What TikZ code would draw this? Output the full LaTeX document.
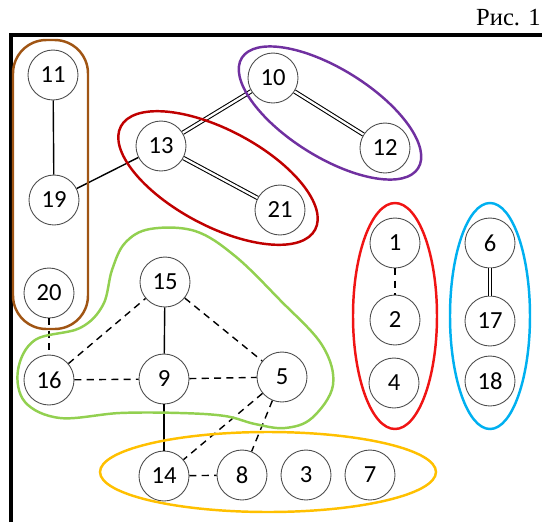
\documentclass[tikz,border=0pt]{standalone}
\usepackage{fontspec}
\setmainfont{Liberation Serif}
\newfontfamily\numfont{Carlito}
\usepackage{xcolor}
\usepackage{tikz}
\definecolor{grpbrown}{RGB}{160,85,20}
\definecolor{grppurple}{RGB}{112,48,160}
\definecolor{grpdarkred}{RGB}{192,0,0}
\definecolor{grpred}{RGB}{240,20,20}
\definecolor{grpblue}{RGB}{0,176,240}
\definecolor{grporange}{RGB}{255,192,0}
\definecolor{grpgreen}{RGB}{146,208,80}

\begin{document}
\begin{tikzpicture}[x=0.02cm, y=-0.02cm,
  vtx/.style={draw=black!70, circle, fill=white, minimum size=1cm, inner sep=0pt,
              line width=0.5pt, font=\numfont\fontsize{14}{16}\selectfont},
  edg/.style={line width=0.8pt},
  dsh/.style={line width=0.8pt, dash pattern=on 4pt off 3pt},
  dbl/.style={double, double distance=1.3pt, line width=0.6pt},
  grp/.style={line width=1.4pt}]
  \useasboundingbox (0,0) rectangle (542,522);
  \node[anchor=base east, inner sep=0pt, font=\fontsize{14}{16}\selectfont]
      (cap) at (541,25) {Рис. 1};
  \draw[line width=1.8pt] (11,522) -- (11,35) -- (542,35);

  \node[vtx] (n11) at (53,75)   {11};
  \node[vtx] (n19) at (54,200)  {19};
  \node[vtx] (n20) at (49,293)  {20};
  \node[vtx] (n16) at (49,380)  {16};
  \node[vtx] (n15) at (165,282) {15};
  \node[vtx] (n9)  at (164,379) {9};
  \node[vtx] (n5)  at (282,377) {5};
  \node[vtx] (n14) at (164,476) {14};
  \node[vtx] (n8)  at (242,475) {8};
  \node[vtx] (n3)  at (306,475) {3};
  \node[vtx] (n7)  at (370,475) {7};
  \node[vtx] (n13) at (161,146) {13};
  \node[vtx] (n10) at (273,78)  {10};
  \node[vtx] (n12) at (385,148) {12};
  \node[vtx] (n21) at (280,210) {21};
  \node[vtx] (n1)  at (395,243) {1};
  \node[vtx] (n2)  at (395,320) {2};
  \node[vtx] (n4)  at (394,383) {4};
  \node[vtx] (n6)  at (490,243) {6};
  \node[vtx] (n17) at (490,321) {17};
  \node[vtx] (n18) at (490,381) {18};

  \draw[edg] (n11) -- (n19);
  \draw[edg] (n19) -- (n13);
  \draw[dbl] (n13) -- (n10);
  \draw[dbl] (n10) -- (n12);
  \draw[dbl] (n13) -- (n21);
  \draw[dbl] (n6)  -- (n17);
  \draw[edg] (n15) -- (n9);
  \draw[edg] (n9)  -- (n14);
  \draw[dsh] (n20) -- (n16);
  \draw[dsh] (n16) -- (n15);
  \draw[dsh] (n16) -- (n9);
  \draw[dsh] (n15) -- (n5);
  \draw[dsh] (n9)  -- (n5);
  \draw[dsh] (n5)  -- (n14);
  \draw[dsh] (n5)  -- (n8);
  \draw[dsh] (n14) -- (n8);
  \draw[dsh] (n1)  -- (n2);

  \draw[grp, grpbrown, rounded corners=19pt] (13,40) rectangle (88,329);
  \draw[grp, grppurple, rotate around={-32:(330,113)}]
      (330,113) ellipse [x radius=104, y radius=44];
  \draw[grp, grpdarkred, rotate around={-28:(218,178)}]
      (218,178) ellipse [x radius=110, y radius=48];
  \draw[grp, grpred]  (395,316) ellipse [x radius=42, y radius=113];
  \draw[grp, grpblue] (490,316) ellipse [x radius=40, y radius=113];
  \draw[grp, grporange] (268,472) ellipse [x radius=168, y radius=40];
  \draw[grp, grpgreen] plot[smooth cycle, tension=0.6] coordinates {
      (150,229) (195,231) (235,256) (280,300) (322,345) (333,385)
      (312,418) (285,428) (255,424) (225,416) (180,413) (120,413)
      (60,418) (25,402) (18,370) (35,340) (80,328) (103,305)
      (112,270) (125,243)};
\end{tikzpicture}
\end{document}
